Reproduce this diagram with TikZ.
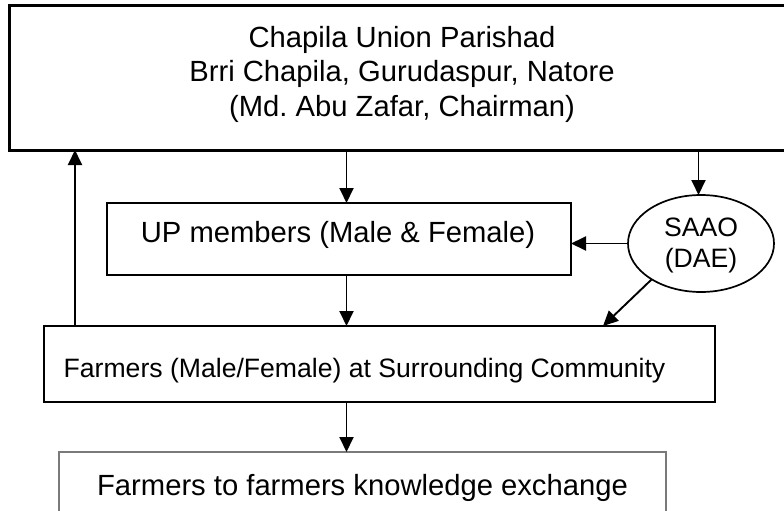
\documentclass[tikz,border=0pt]{standalone}
\usepackage{fontspec}
\setmainfont{Liberation Sans}
\usetikzlibrary{arrows.meta,shapes.geometric,calc}
\frenchspacing
\begin{document}
\begin{tikzpicture}[x=1pt,y=-1pt,
  boxbase/.style={draw,rectangle,inner sep=0pt,outer sep=0pt},
  topbox/.style={boxbase,line width=3pt},
  midbox/.style={boxbase,line width=2pt},
  lowbox/.style={boxbase,line width=1.5pt,draw=black!52},
  ovalbox/.style={draw,ellipse,line width=1.7pt,inner sep=0pt,outer sep=0pt},
  bigtxt/.style={inner sep=0pt,font=\fontsize{29.2}{34.5}\selectfont,align=center},
  smalltxt/.style={inner sep=0pt,font=\fontsize{26.6}{31}\selectfont,align=center},
  arr/.style={line width=1.9pt,-{Triangle[length=15pt,width=14pt]}}
]
\useasboundingbox (0,0) rectangle (784,511);
% boxes
\node[topbox,minimum width=785.5pt,minimum height=144.5pt] (cup) at (402.25,77.75) {};
\node[midbox,minimum width=464pt,minimum height=72pt] (upbox) at (339,239) {};
\node[ovalbox,minimum width=146pt,minimum height=97pt] (saao) at (701,243.5) {};
\node[midbox,minimum width=671pt,minimum height=76pt] (farm) at (379,364) {};
\node[lowbox,minimum width=607pt,minimum height=80pt] (know) at (362.5,492) {};
% texts
\node[bigtxt] (cuptext) at (402,74) {Chapila Union Parishad\\Brri Chapila, Gurudaspur, Natore\\(Md. Abu Zafar, Chairman)};
\node[bigtxt,anchor=base] (uptext) at (338,242) {UP members (Male \& Female)};
\node[smalltxt] (saaotext) at (701,245.6) {SAAO\\(DAE)};
\node[smalltxt,anchor=base] (farmtext) at (364.5,377) {Farmers (Male/Female) at Surrounding Community};
\node[bigtxt,anchor=base] (knowtext) at (362.5,495) {Farmers to farmers knowledge exchange};
% arrow columns
\coordinate (lx) at (75,0);
\coordinate (mx) at (346.5,0);
\coordinate (rx) at (698.5,0);
\coordinate (fx) at (603,0);
% connectors
\draw[arr] (farm.north -| lx) -- (cup.south -| lx);
\draw[arr] (cup.south -| mx) -- (upbox.north -| mx);
\draw[arr] (cup.south -| rx) -- (saao.north -| rx);
\draw[arr] (saao.west) -- (upbox.east |- saao.west);
\draw[arr] (saao.216.7) -- (farm.north -| fx);
\draw[arr] (upbox.south -| mx) -- (farm.north -| mx);
\draw[arr] (farm.south -| mx) -- (know.north -| mx);
\end{tikzpicture}
\end{document}
